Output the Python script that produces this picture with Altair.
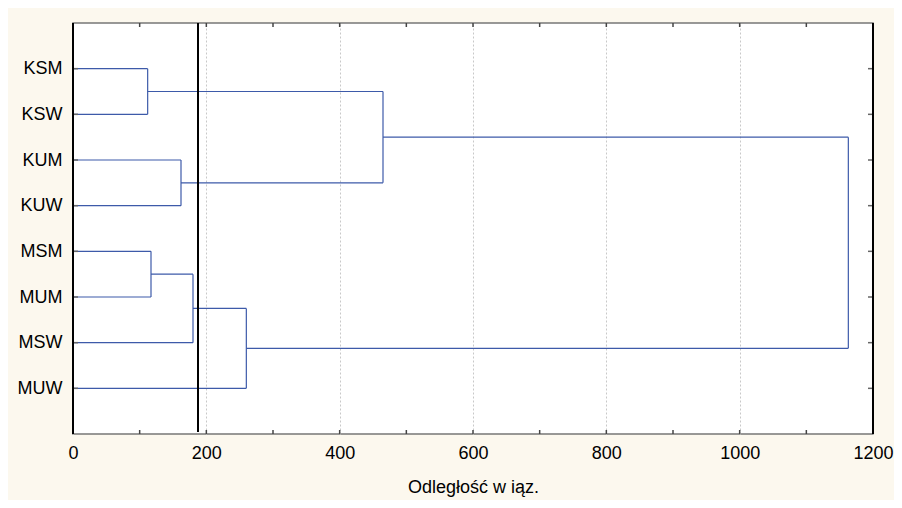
import json
import altair as alt
import pandas as pd

# ---- data ----
leaves = ["KSM", "KSW", "KUM", "KUW", "MSM", "MUM", "MSW", "MUW"]
merge_a = ["KSM", "KUM", "MSM", "C3", "C4", "C1", "C6"]
merge_b = ["KSW", "KUW", "MUM", "MSW", "MUW", "C2", "C5"]
merge_height = [112, 162, 117, 180, 260, 465, 1163]
cut_height = [187.5]
x_tick_values = [0, 200, 400, 600, 800, 1000, 1200]
x_minor_ticks = [100, 200, 300, 400, 500, 600, 700, 800, 900, 1000, 1100]
x_title = "Odległość w iąz."

# ---- build dendrogram segments ----
pos = {name: i + 1 for i, name in enumerate(leaves)}
hgt = {name: 0 for name in leaves}
segs = []
for k, (a, b, h) in enumerate(zip(merge_a, merge_b, merge_height)):
    cid = f"C{k+1}"
    segs.append({"x": hgt[a], "x2": h, "y": pos[a], "y2": pos[a]})
    segs.append({"x": hgt[b], "x2": h, "y": pos[b], "y2": pos[b]})
    segs.append({"x": h, "x2": h, "y": pos[a], "y2": pos[b]})
    pos[cid] = (pos[a] + pos[b]) / 2
    hgt[cid] = h
seg_df = pd.DataFrame(segs)

FONT = "Liberation Sans"
xscale = alt.Scale(domain=[0, 1200], nice=False, zero=False)
yscale = alt.Scale(domain=[0, len(leaves) + 1], reverse=True, nice=False, zero=False)
label_expr = "%s[datum.value] || ''" % json.dumps([""] + leaves)

base = alt.Chart(seg_df)

links = base.mark_rule(color="#3d5aa9", strokeWidth=1.2).encode(
    x=alt.X("x:Q", scale=xscale,
            axis=alt.Axis(values=x_tick_values, format="d", title=x_title, grid=True,
                          gridDash=[2, 2], gridColor="#c8c8c8", domain=False,
                          ticks=False, tickSize=0, labelPadding=10, labelFlush=False,
                          labelFont=FONT, labelFontSize=18, labelColor="black",
                          titleFont=FONT, titleFontSize=18, titleFontWeight="normal",
                          titleColor="black", titlePadding=16)),
    x2="x2:Q",
    y=alt.Y("y:Q", scale=yscale,
            axis=alt.Axis(values=list(range(1, len(leaves) + 1)), labelExpr=label_expr,
                          grid=False, domain=False, ticks=False, tickSize=0,
                          labelPadding=11, labelFont=FONT, labelFontSize=18,
                          labelColor="black", title=None)),
    y2="y2:Q",
)

cut = alt.Chart(pd.DataFrame({"c": cut_height})).mark_rule(
    color="black", strokeWidth=2
).encode(x=alt.X("c:Q", scale=xscale), y=alt.value(0), y2=alt.value(409))

tick_df = pd.DataFrame({"t": x_minor_ticks})
bottom_ticks = alt.Chart(tick_df).mark_rule(color="#444", strokeWidth=1.5).encode(
    x=alt.X("t:Q", scale=xscale), y=alt.value(411), y2=alt.value(407))
top_ticks = alt.Chart(tick_df).mark_rule(color="#444", strokeWidth=1.5).encode(
    x=alt.X("t:Q", scale=xscale), y=alt.value(0), y2=alt.value(4))

leaf_df = pd.DataFrame({"p": list(range(1, len(leaves) + 1))})
left_ticks = alt.Chart(leaf_df).mark_rule(color="#666", strokeWidth=1.5).encode(
    y=alt.Y("p:Q", scale=yscale), x=alt.value(0), x2=alt.value(5))
right_ticks = alt.Chart(leaf_df).mark_rule(color="#666", strokeWidth=1.5).encode(
    y=alt.Y("p:Q", scale=yscale), x=alt.value(795), x2=alt.value(800))

edge_df = pd.DataFrame({"e": [0, 1200]})
edges = alt.Chart(edge_df).mark_rule(color="black", strokeWidth=2).encode(
    x=alt.X("e:Q", scale=xscale), y=alt.value(0), y2=alt.value(411))

chart = alt.layer(
    links, cut, bottom_ticks, top_ticks, left_ticks, right_ticks, edges
).properties(
    width=800, height=411,
    autosize=alt.AutoSizeParams(type="none"),
    padding={"left": 65, "top": 15, "right": 21, "bottom": 66},
    background="#fcf8ee",
).configure_view(
    fill="white", stroke="#777", strokeWidth=1.5
)

chart.save("out.html", embed_options={"renderer": "svg", "actions": False})
